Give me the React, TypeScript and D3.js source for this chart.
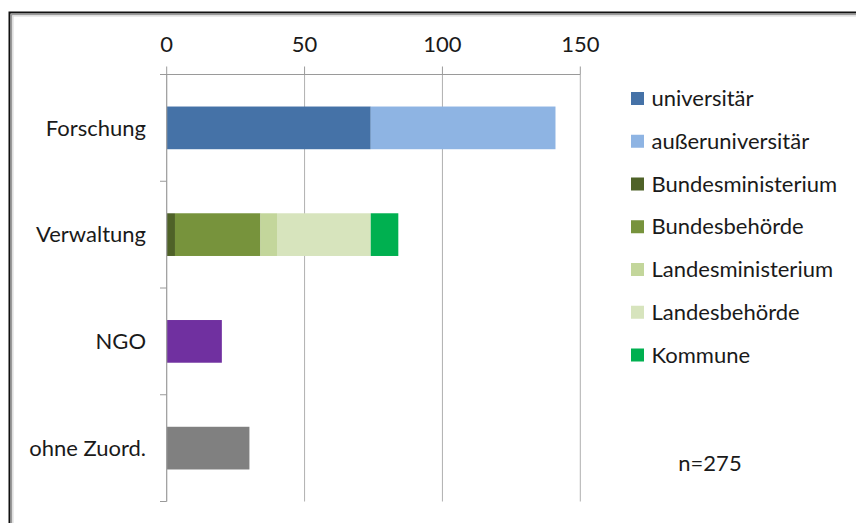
import React from "react";
import * as d3 from "d3";

const categories = ["Forschung", "Verwaltung", "NGO", "ohne Zuord."];
const seriesNames = [
  "universitär",
  "außeruniversitär",
  "Bundesministerium",
  "Bundesbehörde",
  "Landesministerium",
  "Landesbehörde",
  "Kommune",
  "NGO",
  "ohne Zuordnung",
];
const universitaer = [74, 0, 0, 0];
const ausseruniversitaer = [67, 0, 0, 0];
const bundesministerium = [0, 3, 0, 0];
const bundesbehoerde = [0, 31, 0, 0];
const landesministerium = [0, 6, 0, 0];
const landesbehoerde = [0, 34, 0, 0];
const kommune = [0, 10, 0, 0];
const ngo = [0, 0, 20, 0];
const ohneZuordnung = [0, 0, 0, 30];
const legendCount = 7;
const xTicks = [0, 50, 100, 150];
const note = "n=275";

const seriesValues = [
  universitaer,
  ausseruniversitaer,
  bundesministerium,
  bundesbehoerde,
  landesministerium,
  landesbehoerde,
  kommune,
  ngo,
  ohneZuordnung,
];
const colors = [
  "#4572A7",
  "#8EB4E3",
  "#4F6228",
  "#77933C",
  "#C3D69B",
  "#D7E4BD",
  "#00B050",
  "#7030A0",
  "#808080",
];

const FONT = "Lato, 'Open Sans', sans-serif";

export default function App() {
  const W = 856;
  const H = 523;
  const FS = 22;
  const x = d3.scaleLinear().domain([0, 150]).range([166.7, 580.3]);
  const y = d3
    .scaleBand<string>()
    .domain(categories)
    .range([74.5, 501.5])
    .paddingInner(0.6)
    .paddingOuter(0.3);

  const table = categories.map((c, i) => {
    const row: Record<string, any> = { cat: c };
    seriesNames.forEach((s, j) => (row[s] = seriesValues[j][i]));
    return row;
  });
  const stacked = d3.stack<any>().keys(seriesNames)(table);

  const bounds = [
    y.range()[0],
    ...categories.map((c) => (y(c) as number) + y.bandwidth() / 2 + y.step() / 2),
  ];
  const top = y.range()[0];
  const bottom = y.range()[1];
  const legendY0 = 98.5;
  const legendStep = 42.75;

  return (
    <svg
      width={W}
      height={H}
      style={{ position: "absolute", left: 0, top: 0, background: "#fff" }}
      fontFamily={FONT}
    >
      <rect x={0} y={0} width={W} height={H} fill="#fff" />
      {/* frame */}
      <path d={`M9.5,${H + 5} V12.5 H${W + 5}`} fill="none" stroke="#111" strokeWidth={2} />
      <path d={`M11.5,${H + 5} V14.5 H${W + 5}`} fill="none" stroke="#9a9a9a" strokeWidth={1.5} />
      <path d={`M13,${H + 5} V16 H${W + 5}`} fill="none" stroke="#d8d8d8" strokeWidth={1} />

      {/* gridlines */}
      {xTicks.slice(1).map((t) => (
        <line
          key={"g" + t}
          x1={x(t)}
          x2={x(t)}
          y1={top}
          y2={bottom}
          stroke="#B0B0B0"
          strokeWidth={1}
        />
      ))}
      {/* value axis (top) */}
      <line x1={160} x2={x(150)} y1={top} y2={top} stroke="#9A9A9A" strokeWidth={1.2} />
      {xTicks.map((t) => (
        <g key={"t" + t}>
          <line x1={x(t)} x2={x(t)} y1={top - 8} y2={top} stroke="#9A9A9A" strokeWidth={1} />
          <text x={x(t)} y={52} textAnchor="middle" fontSize={FS} fill="#1a1a1a">
            {t}
          </text>
        </g>
      ))}

      {/* bars */}
      {stacked.map((layer, li) =>
        layer.map((d, ci) =>
          d[1] - d[0] > 0 ? (
            <rect
              key={li + "-" + ci}
              x={x(d[0])}
              width={x(d[1]) - x(d[0])}
              y={y(categories[ci])}
              height={y.bandwidth()}
              fill={colors[li]}
            />
          ) : null
        )
      )}

      {/* category axis */}
      <line x1={x(0)} x2={x(0)} y1={top} y2={bottom} stroke="#9A9A9A" strokeWidth={1.2} />
      {bounds.map((b, i) => (
        <line key={"ct" + i} x1={160} x2={x(0)} y1={b} y2={b} stroke="#9A9A9A" strokeWidth={1} />
      ))}
      {categories.map((c) => (
        <text
          key={c}
          x={146}
          y={(y(c) as number) + y.bandwidth() / 2}
          dy="0.35em"
          textAnchor="end"
          fontSize={FS}
          fill="#1a1a1a"
        >
          {c}
        </text>
      ))}

      {/* legend */}
      {seriesNames.slice(0, legendCount).map((s, i) => (
        <g key={"l" + s} transform={`translate(631,${legendY0 + i * legendStep})`}>
          <rect x={0} y={-6.5} width={13} height={13} fill={colors[i]} />
          <text x={20.5} y={0} dy="0.35em" fontSize={FS} fill="#1a1a1a">
            {s}
          </text>
        </g>
      ))}

      <text x={710} y={463} dy="0.35em" textAnchor="middle" fontSize={FS} fill="#1a1a1a">
        {note}
      </text>
    </svg>
  );
}
